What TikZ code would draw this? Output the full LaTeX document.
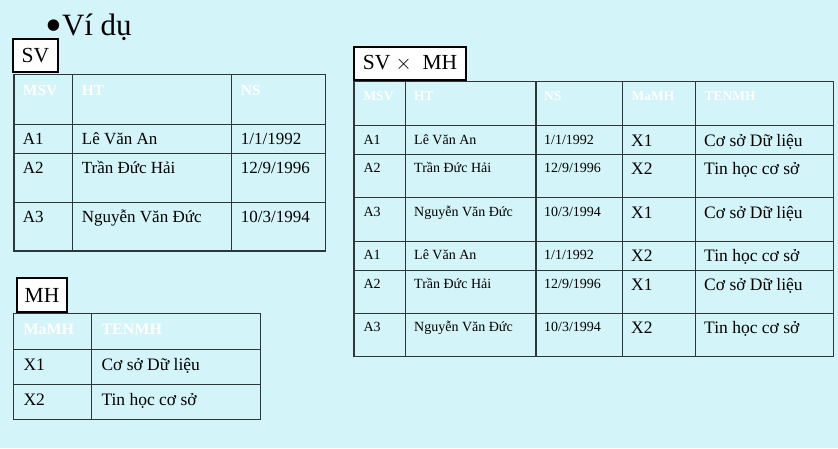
\documentclass[tikz,border=0pt]{standalone}
\usepackage{fontspec}
\setmainfont{Liberation Serif}
\definecolor{bgc}{RGB}{211,244,248}
\definecolor{gridc}{RGB}{45,55,58}
\begin{document}
\begin{tikzpicture}[x=1pt,y=-1pt,
  tline/.style={draw=gridc,line width=1.2pt},
  lbl/.style={draw=black,line width=2pt,fill=white,inner sep=0pt,font=\fontsize{21.5}{24}\selectfont},
  txt/.style={anchor=base west,inner sep=0pt},
  hdrA/.style={txt,text=white,font=\bfseries\fontsize{15.5}{18}\selectfont},
  hdrB/.style={txt,text=white,font=\bfseries\fontsize{13.5}{16}\selectfont},
  hdrC/.style={txt,text=white,font=\bfseries\fontsize{16}{18}\selectfont},
  bodyA/.style={txt,font=\fontsize{17}{20}\selectfont},
  bodyS/.style={txt,font=\fontsize{14}{16}\selectfont},
  bodyL/.style={txt,font=\fontsize{17.5}{20}\selectfont}]
\fill[bgc] (0,0) rectangle (838,448);
\useasboundingbox (0,0) rectangle (838,448);
% title
\node[txt,font=\fontsize{31}{33}\selectfont] (title) at (45,35) {{\fontsize{48}{48}\selectfont\raisebox{-6pt}{•}}Ví dụ};
% ---------- SV table ----------
\draw[tline] (14,74.3) rectangle (325.7,251);
\foreach \yy in {124.3,153.3,202.3} \draw[tline] (14,\yy) -- (325.7,\yy);
\foreach \xx in {72.3,231.7} \draw[tline] (\xx,74.3) -- (\xx,251);
\node[hdrA] (svh1) at (22.7,95) {MSV};
\node[hdrA] (svh2) at (81.7,95) {HT};
\node[hdrA] (svh3) at (240.7,95) {NS};
\node[bodyA] (sv11) at (22.7,144.3) {A1};
\node[bodyA] (sv12) at (81.7,144.3) {Lê Văn An};
\node[bodyA] (sv13) at (240.7,144.3) {1/1/1992};
\node[bodyA] (sv21) at (22.7,173.3) {A2};
\node[bodyA] (sv22) at (81.7,173.3) {Trần Đức Hải};
\node[bodyA] (sv23) at (240.7,173.3) {12/9/1996};
\node[bodyA] (sv31) at (22.7,222.5) {A3};
\node[bodyA] (sv32) at (81.7,222.5) {Nguyễn Văn Đức};
\node[bodyA] (sv33) at (240.7,222.5) {10/3/1994};
\node[lbl,minimum width=44.7pt,minimum height=33pt] (svlbl) at (35.3,55.2) {SV};
% ---------- MH table ----------
\draw[tline] (13.7,313.7) rectangle (260.3,419.3);
\foreach \yy in {349.3,384.3} \draw[tline] (13.7,\yy) -- (260.3,\yy);
\draw[tline] (91.3,313.7) -- (91.3,419.3);
\node[hdrC] (mhh1) at (23.3,334) {MaMH};
\node[hdrC] (mhh2) at (101.3,334) {TENMH};
\node[bodyL] (mh11) at (23.3,370) {X1};
\node[bodyL] (mh12) at (101.3,370) {Cơ sở Dữ liệu};
\node[bodyL] (mh21) at (23.3,405) {X2};
\node[bodyL] (mh22) at (101.3,405) {Tin học cơ sở};
\node[lbl,minimum width=50.6pt,minimum height=33.4pt] (mhlbl) at (42,295) {MH};
% ---------- SV x MH table ----------
\draw[tline] (354,81.7) rectangle (833.3,356.7);
\foreach \yy in {125.7,154.3,197.7,241.7,270.3,313.7} \draw[tline] (354,\yy) -- (833.3,\yy);
\foreach \xx in {405.3,536,622.7,695.3} \draw[tline] (\xx,81.7) -- (\xx,356.7);
\node[hdrB] (pxh1) at (363.3,100) {MSV};
\node[hdrB] (pxh2) at (414,100) {HT};
\node[hdrB] (pxh3) at (544,100) {NS};
\node[hdrB] (pxh4) at (631.5,100) {MaMH};
\node[hdrB] (pxh5) at (704.3,100) {TENMH};
% rows
\node[bodyS] (p11) at (363.3,144) {A1};
\node[bodyS] (p12) at (414,144) {Lê Văn An};
\node[bodyS] (p13) at (544,144) {1/1/1992};
\node[bodyL] (p14) at (631,146) {X1};
\node[bodyL] (p15) at (704,146) {Cơ sở Dữ liệu};
\node[bodyS] (p21) at (363.3,172.5) {A2};
\node[bodyS] (p22) at (414,172.5) {Trần Đức Hải};
\node[bodyS] (p23) at (544,172.5) {12/9/1996};
\node[bodyL] (p24) at (631,174.5) {X2};
\node[bodyL] (p25) at (704,174.5) {Tin học cơ sở};
\node[bodyS] (p31) at (363.3,216.7) {A3};
\node[bodyS] (p32) at (414,216.7) {Nguyễn Văn Đức};
\node[bodyS] (p33) at (544,216.7) {10/3/1994};
\node[bodyL] (p34) at (631,218.7) {X1};
\node[bodyL] (p35) at (704,218.7) {Cơ sở Dữ liệu};
\node[bodyS] (p41) at (363.3,259.3) {A1};
\node[bodyS] (p42) at (414,259.3) {Lê Văn An};
\node[bodyS] (p43) at (544,259.3) {1/1/1992};
\node[bodyL] (p44) at (631,261.3) {X2};
\node[bodyL] (p45) at (704,261.3) {Tin học cơ sở};
\node[bodyS] (p51) at (363.3,288) {A2};
\node[bodyS] (p52) at (414,288) {Trần Đức Hải};
\node[bodyS] (p53) at (544,288) {12/9/1996};
\node[bodyL] (p54) at (631,290) {X1};
\node[bodyL] (p55) at (704,290) {Cơ sở Dữ liệu};
\node[bodyS] (p61) at (363.3,331.3) {A3};
\node[bodyS] (p62) at (414,331.3) {Nguyễn Văn Đức};
\node[bodyS] (p63) at (544,331.3) {10/3/1994};
\node[bodyL] (p64) at (631,333.3) {X2};
\node[bodyL] (p65) at (704,333.3) {Tin học cơ sở};
\node[lbl,minimum width=112.6pt,minimum height=33pt] (pxlbl) at (410,63.2) {SV $\times$\ \ MH};
\end{tikzpicture}
\end{document}
